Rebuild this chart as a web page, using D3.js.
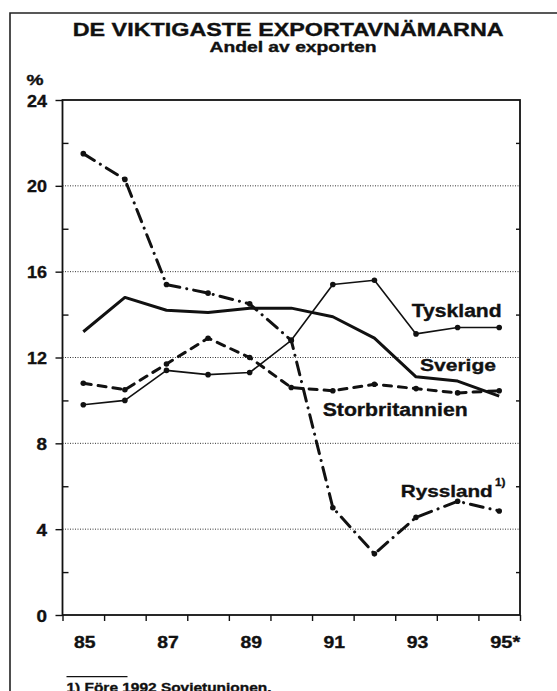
<!DOCTYPE html>
<html>
<head>
<meta charset="utf-8">
<script src="https://cdn.jsdelivr.net/npm/d3@7"></script>
<style>
  body { margin: 0; background: #fff; }
  svg { display: block; }
  text { font-family: "Liberation Sans", Arial, sans-serif; font-weight: bold; fill: #111; stroke: #111; stroke-width: 0.35px; }
</style>
</head>
<body>
<div id="chart"></div>
<script>
'use strict';

//data
var years = [85, 86, 87, 88, 89, 90, 91, 92, 93, 94, 95];
var yearLabels = ['85', '87', '89', '91', '93', '95*'];
var sverige        = [13.2, 14.8, 14.2, 14.1, 14.3, 14.3, 13.9, 12.9, 11.1, 10.9, 10.2];
var tyskland       = [9.8, 10.0, 11.4, 11.2, 11.3, 12.8, 15.4, 15.6, 13.1, 13.4, 13.4];
var storbritannien = [10.8, 10.5, 11.7, 12.9, 12.0, 10.6, 10.45, 10.75, 10.55, 10.35, 10.45];
var ryssland       = [21.5, 20.3, 15.4, 15.0, 14.5, 12.8, 5.0, 2.85, 4.55, 5.3, 4.85];
var yTicks = [0, 4, 8, 12, 16, 20, 24];

//config
var config = {};
config.width  = 557;
config.height = 691;
config.left   = 62.5;
config.right  = 520;
config.top    = 100;
config.bottom = 615;
config.ink    = '#111';

var svg = d3.select('#chart')
    .append('svg')
    .attr('width', config.width)
    .attr('height', config.height);

svg.append('rect')
    .attr('width', config.width)
    .attr('height', config.height)
    .attr('fill', '#fff');

//outer frame (cut by the picture edge at right and bottom)
svg.append('path')
    .attr('d', 'M10,' + config.height + 'V13H' + config.width)
    .attr('fill', 'none')
    .attr('stroke', '#222')
    .attr('stroke-width', 1.6);

//scales
var xBand = d3.scaleBand().domain(years).range([config.left, config.right]).padding(0);
var xEdge = d3.scaleLinear().domain([85, 96]).range([config.left, config.right]);
var y = d3.scaleLinear().domain([0, 24]).range([config.bottom, config.top]);
var xc = function(i){ return xBand(years[i]) + xBand.bandwidth() / 2; };

//title
svg.append('text')
    .attr('x', 72.7).attr('y', 36)
    .attr('textLength', 431).attr('lengthAdjust', 'spacingAndGlyphs')
    .style('font-size', '19px')
    .text('DE VIKTIGASTE EXPORTAVNÄMARNA');

svg.append('text')
    .attr('x', 209.5).attr('y', 52)
    .attr('textLength', 167).attr('lengthAdjust', 'spacingAndGlyphs')
    .style('font-size', '14px')
    .text('Andel av exporten');

svg.append('text')
    .attr('x', 26.5).attr('y', 85)
    .attr('textLength', 17).attr('lengthAdjust', 'spacingAndGlyphs')
    .style('font-size', '15px')
    .text('%');

//grid
svg.append('g')
    .selectAll('line')
    .data([4, 8, 12, 16, 20])
    .enter()
        .append('line')
        .attr('x1', config.left).attr('x2', config.right)
        .attr('y1', function(d){ return y(d); })
        .attr('y2', function(d){ return y(d); })
        .attr('stroke', '#333')
        .attr('stroke-width', 1)
        .attr('stroke-dasharray', '1,1.5');

//axes
var styleAxis = function(g){
    g.select('.domain').remove();
    g.selectAll('line').attr('stroke', config.ink).attr('stroke-width', 1.4);
    g.selectAll('text').remove();
};

svg.append('g')
    .attr('transform', 'translate(' + config.left + ',0)')
    .call(d3.axisLeft(y).tickValues(yTicks).tickSize(7))
    .call(styleAxis);

svg.append('g')
    .attr('transform', 'translate(' + config.left + ',0)')
    .call(d3.axisRight(y).tickValues([2, 6, 10, 14, 18, 22]).tickSize(6))
    .call(styleAxis);

svg.append('g')
    .attr('transform', 'translate(' + config.right + ',0)')
    .call(d3.axisLeft(y).tickValues([2, 6, 10, 14, 18, 22]).tickSize(4))
    .call(styleAxis);

svg.append('g')
    .attr('transform', 'translate(0,' + config.bottom + ')')
    .call(d3.axisBottom(xEdge).tickValues(d3.range(85, 97)).tickSize(6))
    .call(styleAxis);

//plot frame
svg.append('rect')
    .attr('x', config.left).attr('y', config.top)
    .attr('width', config.right - config.left)
    .attr('height', config.bottom - config.top)
    .attr('fill', 'none')
    .attr('stroke', config.ink)
    .attr('stroke-width', 1.8);

//y labels
svg.selectAll('text.ylab')
    .data(yTicks)
    .enter()
        .append('text')
        .attr('class', 'ylab')
        .attr('x', 47)
        .attr('y', function(d){ return y(d) + 6.5; })
        .attr('text-anchor', 'end')
        .attr('textLength', function(d){ return d < 10 ? 10.5 : 20; })
        .attr('lengthAdjust', 'spacingAndGlyphs')
        .style('font-size', '17px')
        .text(function(d){ return d; });

//x labels
svg.selectAll('text.xlab')
    .data(yearLabels)
    .enter()
        .append('text')
        .attr('class', 'xlab')
        .attr('x', function(d, i){ return xc(i * 2) + 1.5 + (d.length > 2 ? 4.5 : 0); })
        .attr('y', 647.5)
        .attr('text-anchor', 'middle')
        .attr('textLength', function(d){ return d.length > 2 ? 30 : 21.5; })
        .attr('lengthAdjust', 'spacingAndGlyphs')
        .style('font-size', '16px')
        .text(function(d){ return d; });

//lines
var line = d3.line()
    .x(function(d, i){ return xc(i); })
    .y(function(d){ return y(d); });

var series = [
    { name: 'Sverige',        values: sverige,        width: 3,   dash: null,          dots: false },
    { name: 'Tyskland',       values: tyskland,       width: 1.6, dash: null,          dots: true  },
    { name: 'Storbritannien', values: storbritannien, width: 3,   dash: '8,7',         dots: true  },
    { name: 'Ryssland',       values: ryssland,       width: 3,   dash: '13,7,0.1,7',  dots: true  }
];

series.forEach(function(s){
    svg.append('path')
        .datum(s.values)
        .attr('d', line)
        .attr('fill', 'none')
        .attr('stroke', config.ink)
        .attr('stroke-width', s.width)
        .attr('stroke-linecap', s.dash ? 'round' : 'butt')
        .attr('stroke-linejoin', 'round')
        .attr('stroke-dasharray', s.dash);

    if(s.dots){
        svg.append('g')
            .selectAll('circle')
            .data(s.values)
            .enter()
                .append('circle')
                .attr('cx', function(d, i){ return xc(i); })
                .attr('cy', function(d){ return y(d); })
                .attr('r', 2.8)
                .attr('fill', config.ink);
    }
});

//series labels
var labels = [
    { text: 'Tyskland',       x: 411.7, y: 316.5, len: 90,  size: 18 },
    { text: 'Sverige',        x: 420,   y: 370.5, len: 76,  size: 17 },
    { text: 'Storbritannien', x: 322.7, y: 416,   len: 145, size: 18 },
    { text: 'Ryssland',       x: 400.7, y: 496.5, len: 92,  size: 17 }
];

svg.selectAll('text.slab')
    .data(labels)
    .enter()
        .append('text')
        .attr('class', 'slab')
        .attr('x', function(d){ return d.x; })
        .attr('y', function(d){ return d.y; })
        .attr('textLength', function(d){ return d.len; })
        .attr('lengthAdjust', 'spacingAndGlyphs')
        .style('font-size', function(d){ return d.size + 'px'; })
        .text(function(d){ return d.text; });

svg.append('text')
    .attr('x', 495).attr('y', 485.5)
    .attr('textLength', 10.5).attr('lengthAdjust', 'spacingAndGlyphs')
    .style('font-size', '11px')
    .text('1)');

//footnote
svg.append('line')
    .attr('x1', 66.5).attr('x2', 127.5)
    .attr('y1', 676.7).attr('y2', 676.7)
    .attr('stroke', config.ink)
    .attr('stroke-width', 1.2);

svg.append('text')
    .attr('x', 66.5).attr('y', 691.5)
    .attr('textLength', 205).attr('lengthAdjust', 'spacingAndGlyphs')
    .style('font-size', '13px')
    .text('1) Före 1992 Sovjetunionen.');
</script>
</body>
</html>
